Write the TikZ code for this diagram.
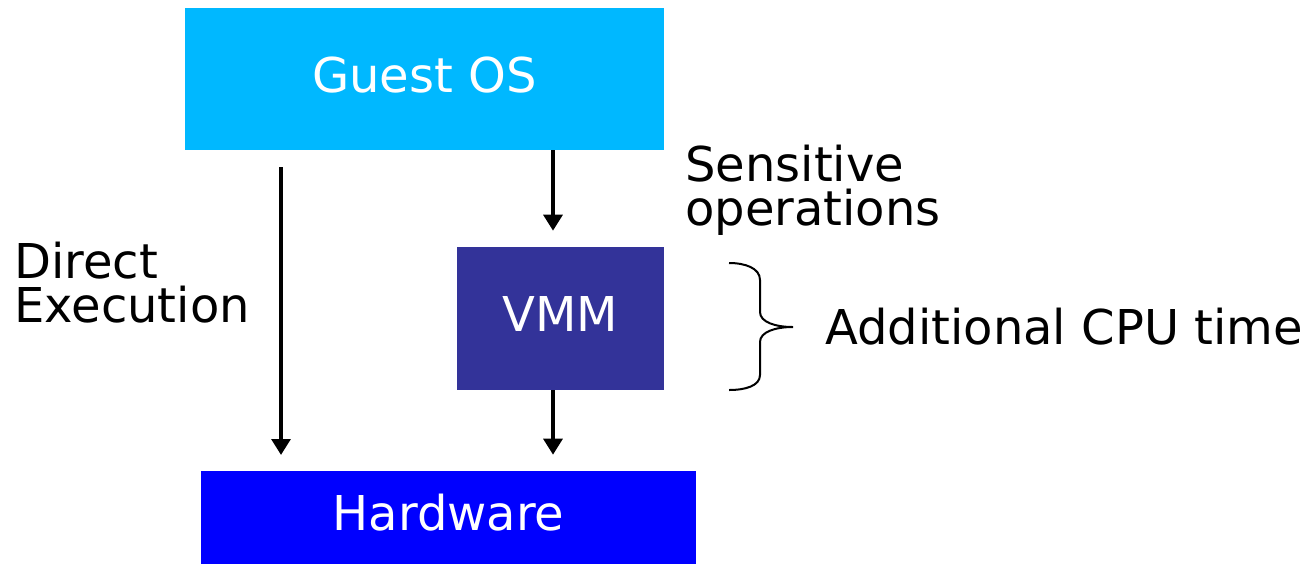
\documentclass[tikz,border=0pt]{standalone}
\usepackage{fontspec}
\setmainfont{DejaVu Sans}
\usetikzlibrary{arrows.meta}
\definecolor{guestc}{RGB}{0,184,255}
\definecolor{vmmc}{RGB}{51,51,153}
\definecolor{hwc}{RGB}{0,0,255}
\tikzset{
  box/.style={draw=none, text=white, inner sep=0pt, text height=26.2pt, text depth=6.6pt, font=\fontsize{36}{33}\selectfont},
  lbl/.style={inner sep=0pt, align=left, font=\fontsize{36}{33}\selectfont},
  arr/.style={line width=3.4pt, -{Triangle[length=12pt,width=14pt]}},
  brc/.style={line width=1.5pt}
}
\begin{document}
\begin{tikzpicture}[x=0.75pt,y=-0.75pt]
\useasboundingbox (0,0) rectangle (1312,565);
\node[box, fill=guestc, minimum width=359.25pt, minimum height=106.5pt] (guest) at (424.5,79) {Guest OS};
\node[box, fill=vmmc, minimum width=155.25pt, minimum height=107.25pt] (vmm) at (560.5,318.5) {VMM};
\node[box, fill=hwc, minimum width=371.25pt, minimum height=69.75pt] (hw) at (448.5,517.5) {Hardware};
\coordinate (ltop) at (281,167);
\coordinate (lbot) at (281,455);
\draw[arr] (ltop) -- (lbot);
\draw[arr, shorten >=12pt] (guest.south -| 553,0) -- (vmm.north -| 553,0);
\draw[arr, shorten >=12pt] (vmm.south -| 553,0) -- (hw.north -| 553,0);
\node[lbl, anchor=west] (sens) at (685,190) {Sensitive\\operations};
\node[lbl, anchor=west] (direct) at (14,283) {Direct\\Execution};
\node[lbl, anchor=west] (add) at (825,327) {Additional CPU time};
\coordinate (b1) at (729,263);
\coordinate (b2) at (729,390);
\coordinate (btip) at (793,327);
\draw[brc] (b1) .. controls (745,263) and (760,268) .. (760,280)
  -- (760,312) .. controls (760,322) and (775,327) .. (btip)
  .. controls (775,327) and (760,332) .. (760,342)
  -- (760,375) .. controls (760,386) and (745,390) .. (b2);
\end{tikzpicture}
\end{document}
